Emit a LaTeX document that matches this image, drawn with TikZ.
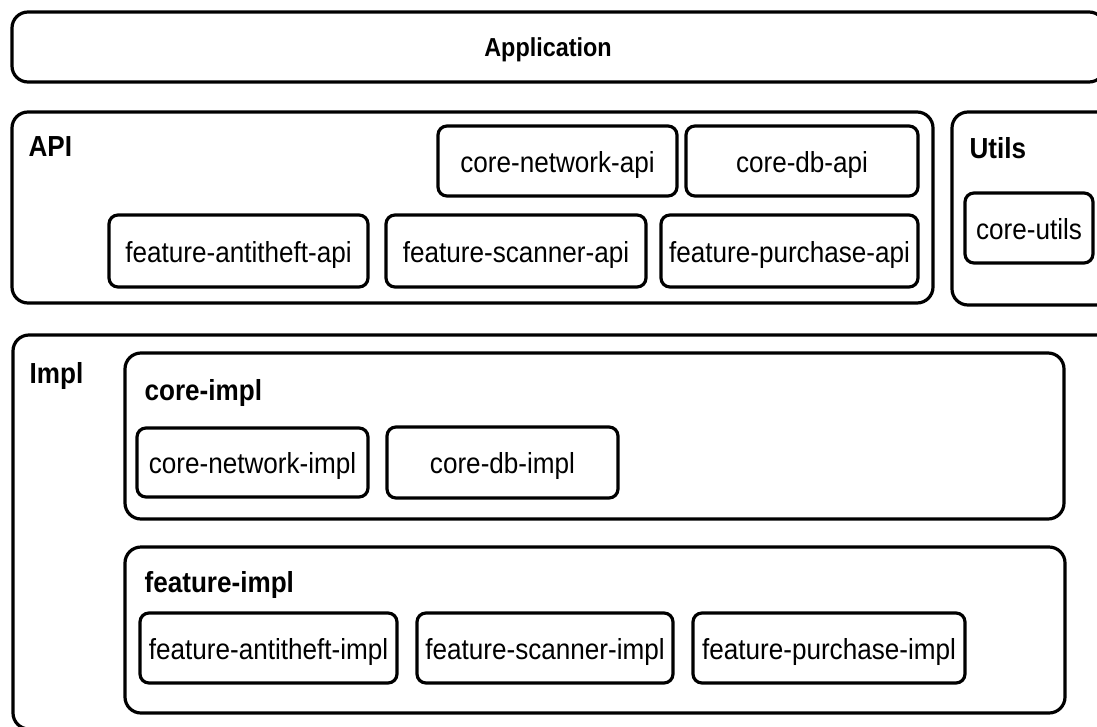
\documentclass[tikz,border=0pt]{standalone}
\usepackage{fontspec}
\setmainfont{Liberation Sans}[FakeStretch=0.9]
\begin{document}
\begin{tikzpicture}[x=1pt,y=-1pt,line width=3.2pt,
  box/.style={draw,rounded corners=9pt,font=\fontsize{29}{34}\selectfont,text height=22pt,text depth=0pt,inner sep=0pt},
  group/.style={draw,rounded corners=16pt,inner sep=0pt},
  lbl/.style={font=\bfseries\fontsize{29}{34}\selectfont,anchor=base west,inner sep=0pt}]
\useasboundingbox (0,0) rectangle (1097,726);
\clip (0,0) rectangle (1097,726);
% containers
\node[group,minimum width=1093pt,minimum height=70pt] (app) at (558.5,47) {};
\node[group,minimum width=921pt,minimum height=191pt] (api) at (472.5,207.5) {};
\node[group,minimum width=168pt,minimum height=193pt] (utils) at (1036,208.5) {};
\node[group,minimum width=1107pt,minimum height=394pt] (impl) at (566.5,532) {};
\node[group,minimum width=939pt,minimum height=166pt] (coreimpl) at (594.5,436) {};
\node[group,minimum width=940pt,minimum height=166pt] (featimpl) at (595,630) {};
% labels
\node[lbl,anchor=base,font=\bfseries\fontsize{26}{30}\selectfont] (applbl) at (548,56) {Application};
\node[lbl] (apilbl) at (27,156) {API};
\node[lbl] (utilslbl) at (968,158) {Utils};
\node[lbl] (impllbl) at (28,383) {Impl};
\node[lbl] (coreimpllbl) at (143,400) {core-impl};
\node[lbl] (featimpllbl) at (143,592) {feature-impl};
% API modules
\node[box,minimum width=239pt,minimum height=70pt] (cna) at (557.5,161) {core-network-api};
\node[box,minimum width=232pt,minimum height=70pt] (cdb) at (802,161) {core-db-api};
\node[box,minimum width=259pt,minimum height=72pt] (faa) at (238.5,251) {feature-antitheft-api};
\node[box,minimum width=260pt,minimum height=72pt] (fsa) at (516,251) {feature-scanner-api};
\node[box,minimum width=257pt,minimum height=72pt] (fpa) at (789.5,251) {feature-purchase-api};
% utils
\node[box,minimum width=128pt,minimum height=70pt] (cu) at (1029,228) {core-utils};
% core impl
\node[box,minimum width=231pt,minimum height=69pt] (cni) at (252.5,462.5) {core-network-impl};
\node[box,minimum width=231pt,minimum height=71pt] (cdi) at (502.5,462.5) {core-db-impl};
% feature impl
\node[box,minimum width=257pt,minimum height=70pt] (fai) at (268.5,648) {feature-antitheft-impl};
\node[box,minimum width=256pt,minimum height=70pt] (fsi) at (545,648) {feature-scanner-impl};
\node[box,minimum width=272pt,minimum height=70pt] (fpi) at (829,648) {feature-purchase-impl};
\end{tikzpicture}
\end{document}
